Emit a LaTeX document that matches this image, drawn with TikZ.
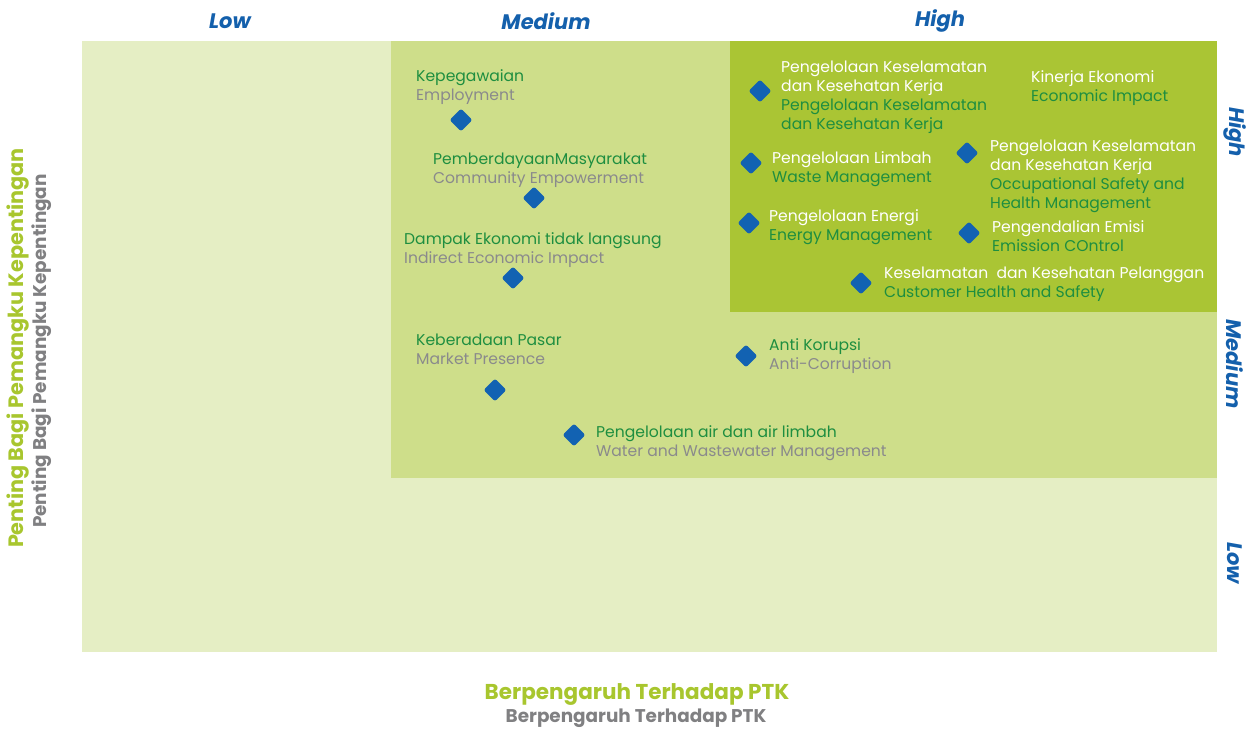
\documentclass[tikz,border=0pt]{standalone}
\usepackage{fontspec}
\setmainfont{Poppins}
\usepackage{tikz}
\usetikzlibrary{shapes.geometric}

\definecolor{lowbg}{RGB}{229,238,196}
\definecolor{midbg}{RGB}{206,222,138}
\definecolor{highbg}{RGB}{170,197,52}
\definecolor{dotblue}{RGB}{18,98,178}
\definecolor{lvlblue}{RGB}{20,96,172}
\definecolor{txtgreen}{RGB}{30,142,64}
\definecolor{txtgray}{RGB}{138,138,140}
\definecolor{axgreen}{RGB}{168,198,46}
\definecolor{axgray}{RGB}{128,128,130}

\begin{document}
\begin{tikzpicture}[x=1pt,y=1pt,yscale=-1,xscale=1,
  dot/.style={diamond,fill=dotblue,inner sep=0pt,minimum size=23pt,rounded corners=2.5pt},
  lbl/.style={anchor=base west,inner sep=0pt,align=left,font=\fontsize{15.6}{19}\selectfont},
  lvl/.style={text=lvlblue,inner sep=0pt,font=\fontsize{21}{24}\selectfont\bfseries\itshape}]
        \useasboundingbox (0,0) rectangle (1248,729);
        \fill[white] (0,0) rectangle (1248,729);

        % Zones
        \fill[lowbg] (82,41) rectangle (1217,652);
        \fill[midbg] (391,41) rectangle (1217,478);
        \fill[highbg] (730,41) rectangle (1217,312);

        % Level labels, top
        \node (topLow) [lvl] at (230,21) {Low};
        \node (topMed) [lvl] at (546,21) {Medium};
        \node (topHigh) [lvl] at (940,21) {High};
        % Level labels, right
        \node (rightHigh) [lvl,rotate=-90] at (1235,132) {High};
        \node (rightMed) [lvl,rotate=-90] at (1235,364) {Medium};
        \node (rightLow) [lvl,rotate=-90] at (1235,563) {Low};

        % Axis titles
        \node (yTitle) [rotate=90,inner sep=0pt,text=axgreen,font=\fontsize{20.8}{24}\selectfont\bfseries] at (18,348) {Penting Bagi Pemangku Kepentingan};
        \node (yTitleSub) [rotate=90,inner sep=0pt,text=axgray,font=\fontsize{18.4}{22}\selectfont\bfseries] at (42,351) {Penting Bagi Pemangku Kepentingan};
        \node (xTitle) [anchor=base,inner sep=0pt,text=axgreen,font=\fontsize{21.5}{24}\selectfont\bfseries] at (637,699) {Berpengaruh Terhadap PTK};
        \node (xTitleSub) [anchor=base,inner sep=0pt,text=axgray,font=\fontsize{18.4}{22}\selectfont\bfseries] at (636,722) {Berpengaruh Terhadap PTK};

        % Medium zone
        \node (dEmploy) [dot] at (461,120) {};
        \node (tEmploy) [lbl] at (416,100) {\textcolor{txtgreen}{Kepegawaian}\\\textcolor{txtgray}{Employment}};
        \node (dCommunity) [dot] at (534,198) {};
        \node (tCommunity) [lbl] at (433,183) {\textcolor{txtgreen}{PemberdayaanMasyarakat}\\\textcolor{txtgray}{Community Empowerment}};
        \node (dIndirect) [dot] at (513,278) {};
        \node (tIndirect) [lbl] at (404,263) {\textcolor{txtgreen}{Dampak Ekonomi tidak langsung}\\\textcolor{txtgray}{Indirect Economic Impact}};
        \node (dMarket) [dot] at (495,390) {};
        \node (tMarket) [lbl] at (416,364) {\textcolor{txtgreen}{Keberadaan Pasar}\\\textcolor{txtgray}{Market Presence}};
        \node (dAnti) [dot] at (746,356) {};
        \node (tAnti) [lbl] at (769,369) {\textcolor{txtgreen}{Anti Korupsi}\\\textcolor{txtgray}{Anti-Corruption}};
        \node (dWater) [dot] at (574,435) {};
        \node (tWater) [lbl] at (596,456) {\textcolor{txtgreen}{Pengelolaan air dan air limbah}\\\textcolor{txtgray}{Water and Wastewater Management}};

        % High zone
        \node (dK3) [dot] at (760,91) {};
        \node (tK3) [lbl] at (781,129) {\textcolor{white}{Pengelolaan Keselamatan}\\\textcolor{white}{dan Kesehatan Kerja}\\\textcolor{txtgreen}{Pengelolaan Keselamatan}\\\textcolor{txtgreen}{dan Kesehatan Kerja}};
        \node (tEcon) [lbl] at (1031,101) {\textcolor{white}{Kinerja Ekonomi}\\\textcolor{txtgreen}{Economic Impact}};
        \node (dWaste) [dot] at (751,163) {};
        \node (tWaste) [lbl] at (772,182) {\textcolor{white}{Pengelolaan Limbah}\\\textcolor{txtgreen}{Waste Management}};
        \node (dOSH) [dot] at (967,153) {};
        \node (tOSH) [lbl] at (990,208) {\textcolor{white}{Pengelolaan Keselamatan}\\\textcolor{white}{dan Kesehatan Kerja}\\\textcolor{txtgreen}{Occupational Safety and}\\\textcolor{txtgreen}{Health Management}};
        \node (dEnergy) [dot] at (749,223) {};
        \node (tEnergy) [lbl] at (769,240) {\textcolor{white}{Pengelolaan Energi}\\\textcolor{txtgreen}{Energy Management}};
        \node (dEmission) [dot] at (969,233) {};
        \node (tEmission) [lbl] at (992,251) {\textcolor{white}{Pengendalian Emisi}\\\textcolor{txtgreen}{Emission COntrol}};
        \node (dCustomer) [dot] at (861,283) {};
        \node (tCustomer) [lbl] at (884,297) {\textcolor{white}{Keselamatan\ \ dan Kesehatan Pelanggan}\\\textcolor{txtgreen}{Customer Health and Safety}};
\end{tikzpicture}
\end{document}
